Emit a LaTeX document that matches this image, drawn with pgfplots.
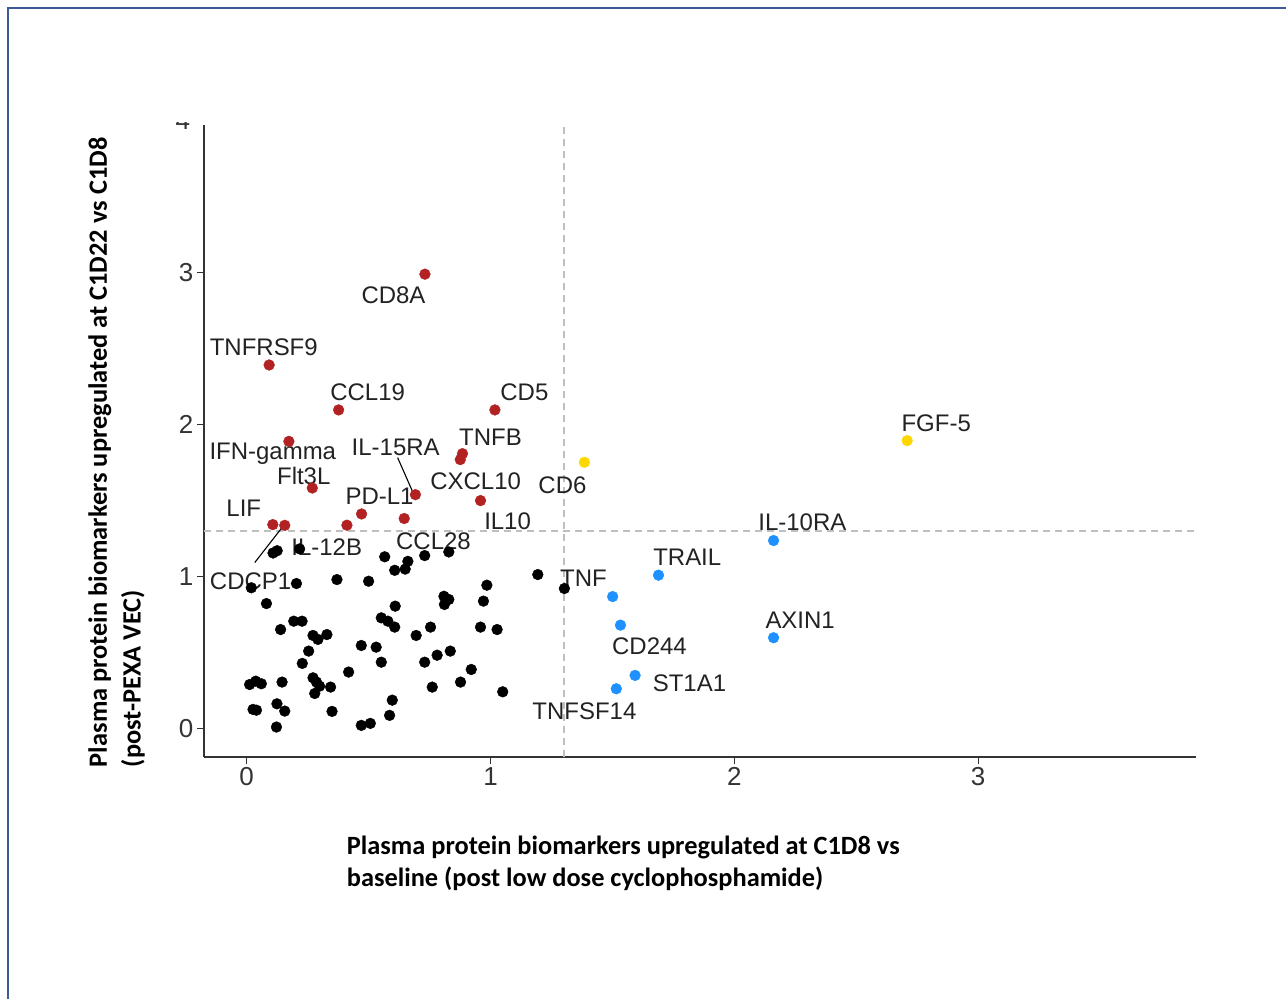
\documentclass[border=0pt]{standalone}
\usepackage{pgfplots}
\pgfplotsset{compat=1.18}
\usepackage{fontspec}
\setmainfont{Liberation Sans}
\newfontfamily\carl{Carlito}
\definecolor{fbred}{HTML}{B22222}
\definecolor{mygold}{HTML}{FFD700}
\definecolor{dblue}{HTML}{1E90FF}
\definecolor{frameblue}{HTML}{3B5A96}
\definecolor{lbl}{HTML}{222222}

\pgfplotstableread{
x y
0.108 1.155
0.125 1.170
0.217 1.182
0.566 1.130
0.607 1.041
0.650 1.049
0.661 1.100
0.730 1.138
0.829 1.162
1.194 1.013
1.303 0.921
0.019 0.926
0.081 0.822
0.204 0.954
0.370 0.980
0.500 0.969
0.985 0.943
0.971 0.838
0.609 0.805
0.809 0.870
0.829 0.849
0.811 0.816
0.193 0.706
0.227 0.706
0.139 0.651
0.552 0.728
0.579 0.706
0.607 0.667
0.695 0.612
0.754 0.667
0.959 0.667
1.027 0.651
0.272 0.612
0.292 0.586
0.329 0.618
0.254 0.509
0.470 0.546
0.531 0.535
0.228 0.428
0.552 0.436
0.730 0.436
0.781 0.482
0.835 0.509
0.418 0.371
0.921 0.388
0.877 0.305
0.761 0.272
1.050 0.241
0.012 0.289
0.037 0.311
0.060 0.294
0.145 0.305
0.272 0.333
0.286 0.305
0.299 0.278
0.279 0.230
0.344 0.272
0.026 0.125
0.040 0.120
0.124 0.162
0.156 0.114
0.350 0.112
0.597 0.186
0.586 0.086
0.470 0.020
0.507 0.033
0.122 0.009
}\blackpts

\pgfplotstableread{
x y
0.731 2.991
0.092 2.393
0.377 2.097
1.018 2.097
0.173 1.890
0.885 1.809
0.876 1.770
0.269 1.583
0.692 1.539
0.959 1.500
0.471 1.412
0.646 1.382
0.411 1.338
0.107 1.342
0.156 1.337
}\redpts

\pgfplotstableread{
x y
1.385 1.752
2.709 1.895
}\goldpts

\pgfplotstableread{
x y
2.161 1.237
1.689 1.009
1.501 0.868
1.533 0.680
2.161 0.597
1.593 0.349
1.516 0.261
}\bluepts

\begin{document}
\begin{tikzpicture}[x=1pt,y=1pt]
\path (0,0) rectangle (1287,1000);
\draw[frameblue, line width=2.5pt] (8,0) -- (8,992) -- (1287,992);
\begin{axis}[
  at={(204pt,242pt)}, anchor=south west,
  width=993pt, height=633pt, scale only axis,
  xmin=-0.176, xmax=3.893, ymin=-0.19, ymax=3.974,
  axis lines=left,
  axis line style={-, line width=1.6pt, color=black!80},
  xtick={0,1,2,3}, ytick={0,1,2,3},
  tick style={color=black!80, line width=1pt},
  major tick length=7pt, tick align=outside,
  ticklabel style={font=\fontsize{26}{30}\selectfont, color=black!80},
  /pgf/number format/assume math mode=true,
  clip=false,
]
\draw[dash pattern=on 7pt off 5pt, color=black!25, line width=1.4pt]
  (axis cs:1.301,-0.19) -- (axis cs:1.301,3.974);
\draw[dash pattern=on 7pt off 5pt, color=black!25, line width=1.4pt]
  (axis cs:-0.176,1.301) -- (axis cs:3.893,1.301);

\addplot[only marks, mark=*, mark size=5.4pt, draw=black, fill=black] table[x=x,y=y] {\blackpts};
\addplot[only marks, mark=*, mark size=5.4pt, draw=fbred, fill=fbred] table[x=x,y=y] {\redpts};
\addplot[only marks, mark=*, mark size=5.4pt, draw=mygold, fill=mygold] table[x=x,y=y] {\goldpts};
\addplot[only marks, mark=*, mark size=5.4pt, draw=dblue, fill=dblue] table[x=x,y=y] {\bluepts};

\draw[black, line width=1.1pt] (axis cs:0.619,1.783) -- (axis cs:0.684,1.546);
\draw[black, line width=1.1pt] (axis cs:0.033,1.092) -- (axis cs:0.148,1.329);

\begin{scope}[every node/.style={font=\fontsize{24}{28}\selectfont, text=lbl, inner sep=0pt}]
\node at (axis cs:0.602,2.849) {CD8A};
\node at (axis cs:0.070,2.513) {TNFRSF9};
\node at (axis cs:0.496,2.211) {CCL19};
\node at (axis cs:1.139,2.211) {CD5};
\node at (axis cs:0.107,1.809) {IFN-gamma};
\node at (axis cs:1.000,1.914) {TNFB};
\node at (axis cs:0.234,1.664) {Flt3L};
\node at (axis cs:0.611,1.849) {IL-15RA};
\node at (axis cs:0.939,1.625) {CXCL10};
\node at (axis cs:1.295,1.599) {CD6};
\node at (axis cs:0.545,1.526) {PD-L1};
\node at (axis cs:-0.012,1.447) {LIF};
\node at (axis cs:1.070,1.362) {IL10};
\node at (axis cs:0.328,1.191) {IL-12B};
\node at (axis cs:0.766,1.230) {CCL28};
\node at (axis cs:0.016,0.967) {CDCP1};
\node at (axis cs:1.381,0.987) {TNF};
\node at (axis cs:1.807,1.125) {TRAIL};
\node at (axis cs:2.279,1.355) {IL-10RA};
\node at (axis cs:2.828,2.007) {FGF-5};
\node at (axis cs:2.270,0.711) {AXIN1};
\node at (axis cs:1.652,0.539) {CD244};
\node at (axis cs:1.816,0.296) {ST1A1};
\node at (axis cs:1.385,0.112) {TNFSF14};
\end{scope}
\end{axis}
\node[font=\fontsize{26}{30}\selectfont, text=black!80, inner sep=0pt] at (183,879) {4};
\fill[white] (140,878) rectangle (200,910);
\node[rotate=90, anchor=west, inner sep=0pt, font=\carl\bfseries\fontsize{26.4}{30}\selectfont] at (100,232) {Plasma protein biomarkers upregulated at C1D22 vs C1D8};
\node[rotate=90, anchor=west, inner sep=0pt, font=\carl\bfseries\fontsize{26.4}{30}\selectfont] at (133,232) {(post-PEXA VEC)};
\node[anchor=west, inner sep=0pt, font=\carl\bfseries\fontsize{26.4}{30}\selectfont] at (347,152) {Plasma protein biomarkers upregulated at C1D8 vs};
\node[anchor=west, inner sep=0pt, font=\carl\bfseries\fontsize{26.4}{30}\selectfont] at (347,120) {baseline (post low dose cyclophosphamide)};
\end{tikzpicture}
\end{document}
